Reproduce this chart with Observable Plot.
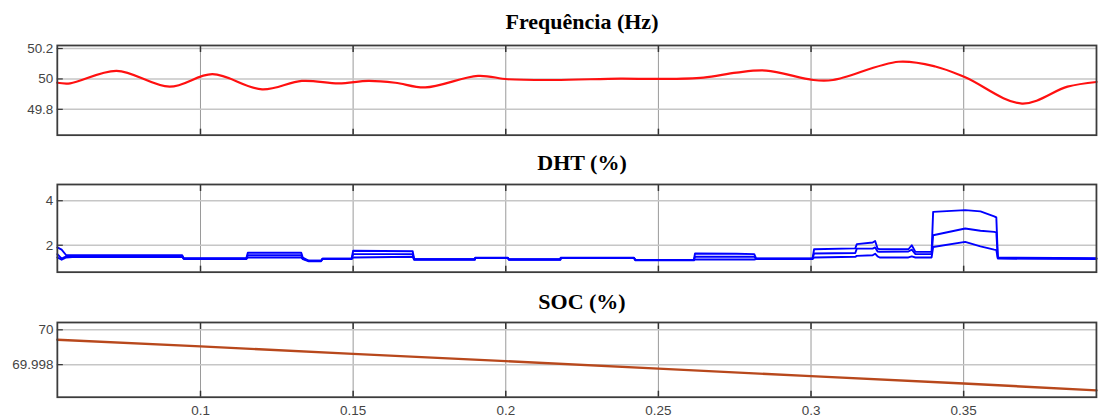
<!DOCTYPE html>
<html><head><meta charset="utf-8">
<script src="https://cdn.jsdelivr.net/npm/d3@7"></script>
<script src="https://cdn.jsdelivr.net/npm/@observablehq/plot@0.6"></script>
<style>
html,body{margin:0;padding:0;background:#fff;overflow:hidden;width:1098px;height:420px;}
#root{position:relative;width:1098px;height:420px;overflow:hidden;}
.title{position:absolute;left:57px;width:1050px;text-align:center;font-family:"Liberation Serif","Times New Roman",serif;font-weight:bold;font-size:22px;color:#000;line-height:1;}
.panel{position:absolute;left:0;}
</style></head><body><div id="root"></div>
<script>
// ---- data ----
const titles = ["Frequência (Hz)", "DHT (%)", "SOC (%)"];
const xTicks = [0.1, 0.15, 0.2, 0.25, 0.3, 0.35];
const xDomain = [0.0531, 0.3935];

const freqTicks = [49.8, 50, 50.2];
const freqTime = [0.0531, 0.0573, 0.0725, 0.0899, 0.1039, 0.1202, 0.1332, 0.1453, 0.1550, 0.1638, 0.1736, 0.1909, 0.2007, 0.2160, 0.2375, 0.2495, 0.2648, 0.2756, 0.2853, 0.3007, 0.3072, 0.3287, 0.3407, 0.3505, 0.3691, 0.3840, 0.3935];
const freqVal  = [49.975, 49.971, 50.053, 49.949, 50.031, 49.931, 49.987, 49.971, 49.987, 49.975, 49.944, 50.020, 49.998, 49.993, 50.002, 50.000, 50.009, 50.042, 50.055, 49.993, 49.993, 50.113, 50.082, 50.011, 49.838, 49.949, 49.980];

const dhtTicks = [2, 4];
const dhtTime = [0.0531, 0.0545, 0.056, 0.058, 0.094, 0.0945, 0.115, 0.1155, 0.133, 0.1335, 0.1355, 0.1395, 0.14, 0.1495, 0.150, 0.1695, 0.170, 0.1899, 0.190, 0.2007, 0.201, 0.2179, 0.218, 0.242, 0.2425, 0.2616, 0.262, 0.2756, 0.2814, 0.282, 0.3005, 0.301, 0.3145, 0.315, 0.3202, 0.3210, 0.3218, 0.3225, 0.3319, 0.3330, 0.3342, 0.3395, 0.3400, 0.3505, 0.3555, 0.3600, 0.3607, 0.3612, 0.3935];
const dhtA = [1.90, 1.80, 1.55, 1.55, 1.55, 1.42, 1.42, 1.66, 1.66, 1.45, 1.30, 1.30, 1.40, 1.40, 1.75, 1.73, 1.37, 1.37, 1.44, 1.44, 1.37, 1.37, 1.44, 1.44, 1.34, 1.34, 1.63, 1.62, 1.60, 1.41, 1.41, 1.82, 1.86, 2.05, 2.12, 2.19, 1.85, 1.82, 1.82, 2.00, 1.70, 1.70, 3.50, 3.58, 3.52, 3.30, 3.25, 1.45, 1.42];
const dhtB = [1.60, 1.40, 1.50, 1.50, 1.50, 1.40, 1.40, 1.55, 1.55, 1.40, 1.30, 1.30, 1.40, 1.40, 1.60, 1.60, 1.37, 1.37, 1.43, 1.43, 1.36, 1.36, 1.43, 1.43, 1.33, 1.33, 1.48, 1.48, 1.48, 1.40, 1.40, 1.63, 1.65, 1.85, 1.85, 1.90, 1.72, 1.70, 1.72, 1.80, 1.60, 1.60, 2.45, 2.75, 2.65, 2.60, 2.58, 1.42, 1.40];
const dhtC = [1.45, 1.35, 1.45, 1.47, 1.47, 1.38, 1.38, 1.45, 1.45, 1.38, 1.28, 1.28, 1.38, 1.38, 1.45, 1.48, 1.35, 1.35, 1.42, 1.42, 1.35, 1.35, 1.42, 1.42, 1.32, 1.32, 1.36, 1.36, 1.36, 1.38, 1.38, 1.45, 1.48, 1.52, 1.55, 1.62, 1.50, 1.45, 1.45, 1.50, 1.45, 1.45, 1.92, 2.15, 1.95, 1.80, 1.78, 1.40, 1.38];

const socTicks = [69.998, 70];
const socTime = [0.0531, 0.1, 0.15, 0.2, 0.25, 0.3, 0.35, 0.3935];
const socVal  = [69.99943, 69.99905, 69.99862, 69.99820, 69.99777, 69.99734, 69.99692, 69.99652];

// ---- build ----
const freqRows = freqTime.map((t, i) => ({t, v: freqVal[i]}));
const dhtRows = [];
[["a", dhtA], ["b", dhtB], ["c", dhtC]].forEach(([k, arr]) => dhtTime.forEach((t, i) => dhtRows.push({t, v: arr[i], k})));
const socRows = socTime.map((t, i) => ({t, v: socVal[i]}));

const root = document.getElementById("root");

function panel({top, height, mt, mb, yDomain, yTicks, yFmt, lineMarks, showX}) {
  const marks = [
    Plot.gridX(xTicks, {stroke: "#9a9a9a", strokeOpacity: 1, strokeWidth: 1}),
    Plot.gridY(yTicks, {stroke: "#c6c6c6", strokeOpacity: 1, strokeWidth: 1.5}),
    ...lineMarks,
    Plot.axisY(yTicks, {anchor: "left", tickSize: -6, tickFormat: () => "", label: null, stroke: "#333", strokeWidth: 1.2}),
    Plot.axisY(yTicks, {anchor: "left", tickSize: 0, tickPadding: 4, tickFormat: yFmt, label: null, fill: "#444"}),
    Plot.axisX(xTicks, {anchor: "top", tickSize: -6, tickFormat: () => "", label: null, stroke: "#333", strokeWidth: 1.5}),
    Plot.axisX(xTicks, {anchor: "bottom", tickSize: -6, tickFormat: () => "", label: null, stroke: "#333", strokeWidth: 1.5}),
    Plot.frame({stroke: "#3c3c3c", strokeWidth: 1.8})
  ];
  if (showX) marks.push(Plot.axisX(xTicks, {anchor: "bottom", tickSize: 0, tickPadding: 8, tickFormat: d => String(d), label: null, fill: "#444"}));
  const svg = Plot.plot({
    width: 1102, height,
    marginLeft: 57, marginRight: 2, marginTop: mt, marginBottom: mb,
    style: {fontFamily: "'Liberation Sans', Arial, sans-serif", fontSize: "13.5px", background: "transparent", overflow: "visible"},
    x: {domain: xDomain, axis: null},
    y: {domain: yDomain, axis: null},
    marks
  });
  const d = document.createElement("div");
  d.className = "panel";
  d.style.top = top + "px";
  d.appendChild(svg);
  root.appendChild(d);
}

function title(text, top) {
  const t = document.createElement("div");
  t.className = "title";
  t.style.top = top + "px";
  t.textContent = text;
  root.appendChild(t);
}

title(titles[0], 11);
panel({top: 43, height: 94, mt: 2, mb: 2, yDomain: [49.63, 50.22], yTicks: freqTicks, yFmt: d => String(d),
  lineMarks: [Plot.line(freqRows, {x: "t", y: "v", stroke: "#ff1010", strokeWidth: 2.2, curve: "catmull-rom"})]});

title(titles[1], 152);
panel({top: 182, height: 92, mt: 2, mb: 2, yDomain: [0.79, 4.73], yTicks: dhtTicks, yFmt: d => String(d),
  lineMarks: [Plot.line(dhtRows, {x: "t", y: "v", z: "k", stroke: "#0000ff", strokeWidth: 1.9})]});

title(titles[2], 291);
panel({top: 320, height: 100, mt: 2, mb: 23, yDomain: [69.99613, 70.00042], yTicks: socTicks, yFmt: d => String(d),
  lineMarks: [Plot.line(socRows, {x: "t", y: "v", stroke: "#b8481c", strokeWidth: 2.4})], showX: true});
</script></body></html>
